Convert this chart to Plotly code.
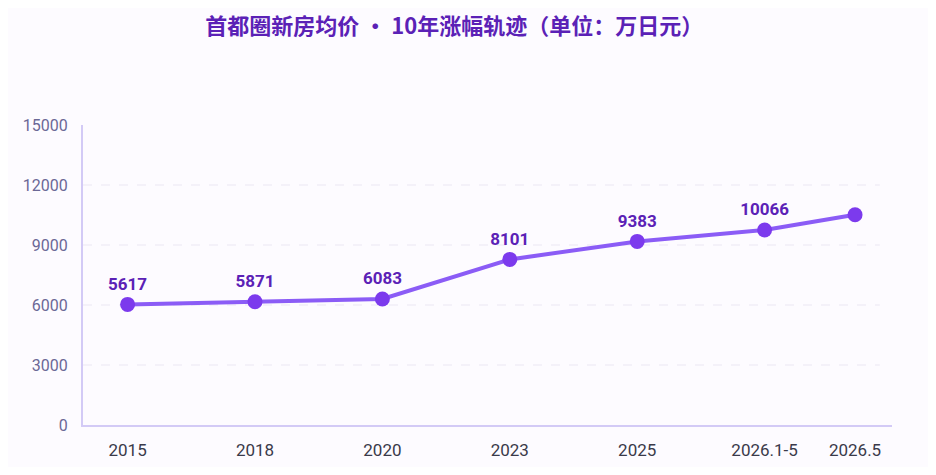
import plotly.graph_objects as go

# 首都圈新房均价 (点位 vs 标注数值)
categories = ["2015", "2018", "2020", "2023", "2025", "2026.1-5", "2026.5"]
x_pos = [0, 1, 2, 3, 4, 5, 5.71]
prices = [6030, 6160, 6300, 8280, 9180, 9750, 10510]
labels = ["5617", "5871", "6083", "8101", "9383", "10066", ""]
y_ticks = [0, 3000, 6000, 9000, 12000, 15000]
y_ticktext = ["0", "3000", "6000", "9000", "12000", "15000"]
grid_vals = [3000, 6000, 9000, 12000]

fig = go.Figure()

fig.add_trace(go.Scatter(
    x=x_pos, y=prices,
    mode="lines+markers+text",
    line=dict(color="#8b5cf6", width=4),
    marker=dict(color="#7c3aed", size=15),
    text=labels,
    textposition="top center",
    textfont=dict(family="Roboto", size=17, color="#5b21b6", weight="bold"),
    cliponaxis=False,
    hoverinfo="skip",
))

for g in grid_vals:
    fig.add_shape(type="line", xref="paper", yref="y", x0=0, x1=0.985, y0=g, y1=g,
                  line=dict(color="#ece8f3", width=1.2, dash="dash"), layer="below")

# page body has an 8px margin, so the figure is a bit smaller than the window
fig.update_layout(
    width=920, height=459,
    paper_bgcolor="#fdfbff", plot_bgcolor="#fdfbff",
    margin=dict(l=75, r=36, t=117, b=42),
    showlegend=False,
    title=dict(
        text="首都圈新房均价 • 10年涨幅轨迹（单位：万日元）",
        x=0.485, xanchor="center", y=0.96, yanchor="middle",
        font=dict(family="Noto Sans CJK SC", size=22, color="#5b21b6", weight="bold"),
    ),
)

fig.update_xaxes(
    range=[-0.35, 6.0],
    tickvals=x_pos, ticktext=categories,
    showgrid=False, zeroline=False, automargin=False,
    showline=True, linecolor="#d3caf6", linewidth=2,
    ticks="", ticklen=0, ticklabelstandoff=9,
    tickfont=dict(family="Roboto", size=17, color="#3a3a4a"),
)
fig.update_yaxes(
    range=[0, 15000],
    tickvals=y_ticks, ticktext=y_ticktext,
    showgrid=False, zeroline=False, automargin=False,
    showline=True, linecolor="#d3caf6", linewidth=2,
    ticks="", ticklen=0, ticklabelstandoff=10,
    tickfont=dict(family="Roboto", size=16, color="#6b6896"),
)

fig.write_html("out.html")
